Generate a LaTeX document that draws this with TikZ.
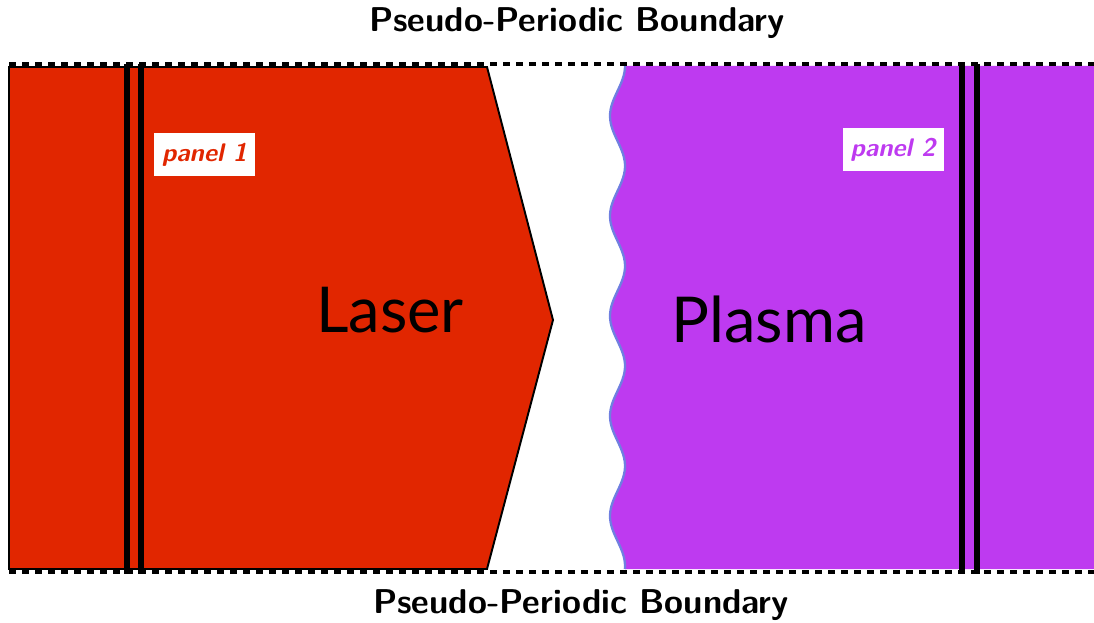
\documentclass[tikz,border=0pt]{standalone}
\usepackage{fontspec}
\usepackage{tikz}
\usetikzlibrary{positioning}
\newfontfamily\gillfont{Lato}
\definecolor{LaserRed}{HTML}{E12600}
\definecolor{PlasmaPurple}{HTML}{BE3AF0}
\definecolor{WaveBlue}{HTML}{6F7FE0}
\tikzset{
  boundary/.style={dashed,line width=1.8pt,dash pattern=on 4pt off 3.4pt},
  panelline/.style={line width=3.2pt,black},
  bndlabel/.style={font=\sffamily\bfseries\fontsize{19.6}{23}\selectfont},
  biglabel/.style={font=\gillfont\fontsize{36}{40}\selectfont,anchor=base},
  panellabel/.style={fill=white,inner sep=0pt,minimum width=2.02cm,minimum height=0.86cm,
    font=\sffamily\bfseries\itshape\fontsize{14.5}{17}\selectfont\addfontfeatures{LetterSpace=6}}
}

\begin{document}
\begin{tikzpicture}[x=0.02cm,y=0.02cm]
  \useasboundingbox (0,0) rectangle (1094,622);
  % --- laser pulse (red arrow block) ---
  \filldraw[fill=LaserRed,draw=black,line width=1.1pt]
    (9,555) -- (487,555) -- (553,302) -- (487,53) -- (9,53) -- cycle;
  % --- plasma slab with rippled front ---
  \fill[PlasmaPurple] plot[domain=556:53,samples=150,smooth] ({617.5+7.5*cos(3.6*(556-\x))},\x)
    -- (1094,53) -- (1094,556) -- cycle;
  \draw[WaveBlue,line width=1.3pt] plot[domain=556:53,samples=150,smooth] ({617.5+7.5*cos(3.6*(556-\x))},\x);
  % --- pseudo-periodic boundaries ---
  \draw[boundary] (9,558) -- (1094,558);
  \draw[boundary] (9,50) -- (1094,50);
  % --- panel boundaries (double lines) ---
  \foreach \xp in {127,141,962,977}
    \draw[panelline] (\xp,558) -- (\xp,48);
  % --- labels ---
  \node[bndlabel] (topbnd) at (577,599) {Pseudo-Periodic Boundary};
  \node[bndlabel] (botbnd) at (581,17) {Pseudo-Periodic Boundary};
  \node[biglabel] (laser) at (390,289) {Laser};
  \node[biglabel] (plasma) at (769,279) {Plasma};
  \node[panellabel,text=LaserRed] (panelA) at (204.5,467.5) {panel 1};
  \node[panellabel,text=PlasmaPurple] (panelB) at (893,472) {panel 2};
\end{tikzpicture}
\end{document}
